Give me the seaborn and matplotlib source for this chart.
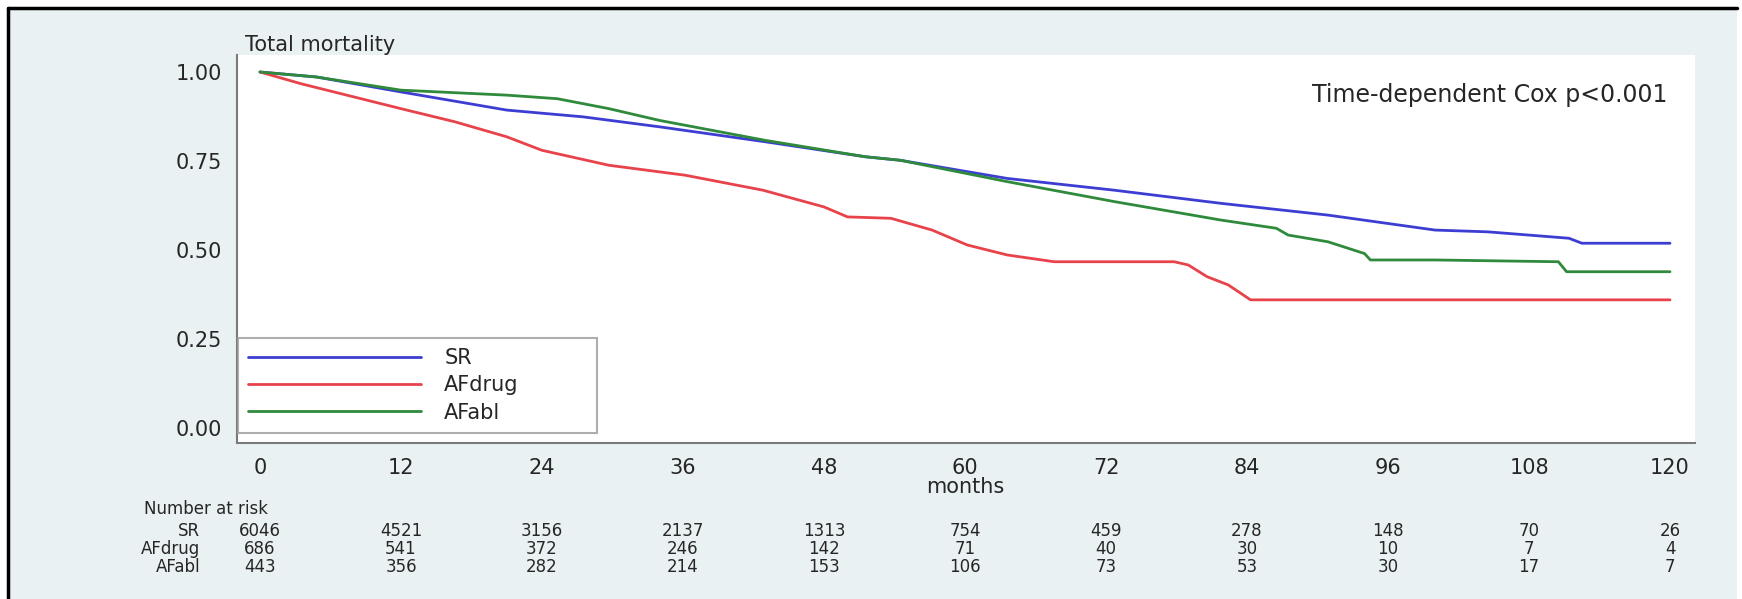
import numpy as np
import pandas as pd
import seaborn as sns
import matplotlib.pyplot as plt
from matplotlib.patches import Rectangle
from matplotlib.lines import Line2D

# Kaplan-Meier style curves (months, survival)
sr_months = [0, 4.8, 12, 21, 27.5, 34, 43, 51.5, 54.5, 63.6, 72.7, 81.8, 90.9, 100, 104.5, 111.4, 112.5, 120]
sr_surv = [1.00, 0.986, 0.944, 0.893, 0.874, 0.846, 0.804, 0.762, 0.752, 0.701, 0.668, 0.631, 0.598, 0.556, 0.551, 0.533, 0.519, 0.519]

afdrug_months = [0, 3.5, 12, 16.6, 21, 24, 29.7, 36.2, 42.8, 48, 50, 53.7, 57.2, 60.2, 63.6, 67.6, 77.8, 79, 80.6, 82.4, 84.3, 120]
afdrug_surv = [1.00, 0.967, 0.897, 0.86, 0.818, 0.78, 0.738, 0.71, 0.668, 0.621, 0.593, 0.589, 0.556, 0.514, 0.486, 0.467, 0.467, 0.458, 0.425, 0.402, 0.36, 0.36]

afabl_months = [0, 4.8, 12, 21, 25.3, 29.7, 34, 43, 51.5, 54.5, 63.6, 72.7, 81.8, 86.5, 87.5, 90.9, 94, 94.5, 100, 110.5, 111.2, 120]
afabl_surv = [1.00, 0.986, 0.949, 0.935, 0.925, 0.897, 0.864, 0.808, 0.762, 0.752, 0.692, 0.636, 0.584, 0.561, 0.542, 0.523, 0.49, 0.472, 0.472, 0.467, 0.439, 0.439]

groups = ["SR", "AFdrug", "AFabl"]
colors = ["#3d3dd4", "#e8434b", "#2f8a3c"]

# number at risk table
risk_times = [0, 12, 24, 36, 48, 60, 72, 84, 96, 108, 120]
risk_sr = [6046, 4521, 3156, 2137, 1313, 754, 459, 278, 148, 70, 26]
risk_afdrug = [686, 541, 372, 246, 142, 71, 40, 30, 10, 7, 4]
risk_afabl = [443, 356, 282, 214, 153, 106, 73, 53, 30, 17, 7]

x_ticks = [0, 12, 24, 36, 48, 60, 72, 84, 96, 108, 120]
y_ticks = [0.0, 0.25, 0.5, 0.75, 1.0]
y_ticklabels = ["0.00", "0.25", "0.50", "0.75", "1.00"]

df = pd.concat([
    pd.DataFrame({"months": sr_months, "surv": sr_surv, "group": "SR"}),
    pd.DataFrame({"months": afdrug_months, "surv": afdrug_surv, "group": "AFdrug"}),
    pd.DataFrame({"months": afabl_months, "surv": afabl_surv, "group": "AFabl"}),
])

W, H = 1742, 599
bg = "#eaf1f3"
txt = "#262626"
axc = "#7a7a7a"

sns.set_style("white")
plt.rcParams["font.family"] = ["DejaVu Sans"]

fig = plt.figure(figsize=(W / 100, H / 100), dpi=100, facecolor=bg)

# white plot region, in pixels
L, R, T, B = 237, 1695, 55, 443
ax = fig.add_axes([L / W, 1 - B / H, (R - L) / W, (B - T) / H])
ax.set_facecolor("white")

sns.lineplot(data=df, x="months", y="surv", hue="group", hue_order=groups,
             palette=colors, linewidth=2, ax=ax, legend=False, sort=False,
             estimator=None)

# 0 months -> x=260px, 120 -> x=1670px ; 1.00 -> y=72px, 0.00 -> y=428px
pxm = (1670 - 260) / 120
ax.set_xlim((L - 260) / pxm, (R - 260) / pxm)
pxv = 428 - 72
ax.set_ylim(-(B - 428) / pxv, 1 + (72 - T) / pxv)

ax.set_xticks(x_ticks)
ax.set_yticks(y_ticks)
ax.set_yticklabels(y_ticklabels)
ax.tick_params(axis="both", direction="out", length=5, width=1.2, color=axc,
               labelsize=15, labelcolor=txt, pad=6)
ax.set_xlabel("")
ax.set_ylabel("")
for s in ["top", "right"]:
    ax.spines[s].set_visible(False)
for s in ["left", "bottom"]:
    ax.spines[s].set_color(axc)
    ax.spines[s].set_linewidth(1.5)

# annotations
fig.text(1667 / W, 1 - 95 / H, "Time-dependent Cox p<0.001", ha="right", va="center",
         fontsize=17, color=txt)
fig.text(245 / W, 1 - 45 / H, "Total mortality", ha="left", va="center",
         fontsize=15, color=txt)
fig.text(965 / W, 1 - 487 / H, "months", ha="center", va="center",
         fontsize=15, color=txt)

# legend box in the lower left corner
handles = [Line2D([0], [0], color=c, lw=2) for c in colors]
leg = ax.legend(handles, groups, loc="lower left",
                bbox_to_anchor=((238 - L) / (R - L), (B - 433) / (B - T),
                                (597 - 238) / (R - L), 0.2),
                mode="expand", fontsize=15, frameon=True, fancybox=False,
                handlelength=8.3, handletextpad=1.1, labelspacing=0.35,
                borderpad=0.5, borderaxespad=0)
leg.get_frame().set_edgecolor("#9a9a9a")
leg.get_frame().set_linewidth(1.5)
for t in leg.get_texts():
    t.set_color(txt)

# number at risk
fig.text(144 / W, 1 - 509 / H, "Number at risk", ha="left", va="center",
         fontsize=12, color=txt)
rows = [("SR", risk_sr, 531), ("AFdrug", risk_afdrug, 549), ("AFabl", risk_afabl, 567)]
for name, vals, ypx in rows:
    fig.text(200 / W, 1 - ypx / H, name, ha="right", va="center", fontsize=12, color=txt)
    for t, v in zip(risk_times, vals):
        xpx = 260 + t * pxm
        fig.text(xpx / W, 1 - ypx / H, str(v), ha="center", va="center",
                 fontsize=12, color=txt)

# outer frame: black lines at left/top, white strips outside
for rect in [(0, 0, 8 / W, 1), (1737 / W, 0, 5 / W, 1), (0, 1 - 8 / H, 1, 8 / H)]:
    fig.patches.append(Rectangle(rect[:2], rect[2], rect[3], transform=fig.transFigure,
                                 facecolor="white", edgecolor="none"))
fig.add_artist(Line2D([8 / W, 8 / W], [0, 1 - 8 / H], color="black", lw=2.5))
fig.add_artist(Line2D([8 / W, 1737 / W], [1 - 8 / H, 1 - 8 / H], color="black", lw=2.5))

fig.savefig("out.png", dpi=100, facecolor=bg)
